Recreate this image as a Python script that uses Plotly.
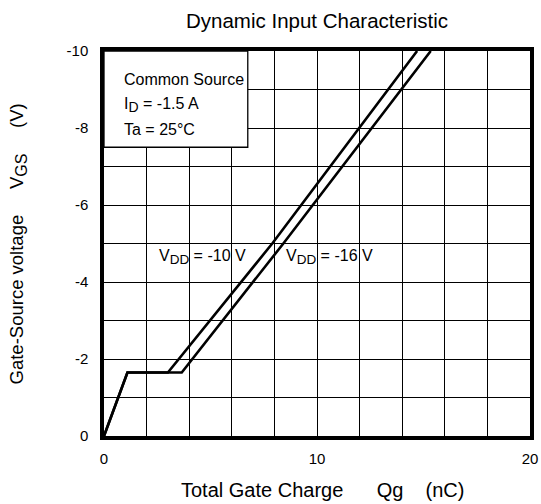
import plotly.graph_objects as go

# Gate charge curves: total gate charge Qg (nC) vs gate-source voltage VGS (V)
qg_vdd10 = [0.0, 1.1, 3.0, 7.9, 14.7]
vgs_vdd10 = [0.0, -1.65, -1.65, -5.0, -10.0]
qg_vdd16 = [0.0, 1.1, 3.65, 8.42, 15.34]
vgs_vdd16 = [0.0, -1.65, -1.65, -5.0, -10.0]

x_ticks = [0, 10, 20]
y_ticks = [0, -2, -4, -6, -8, -10]
x_minor = [2, 4, 6, 8, 12, 14, 16, 18]
y_minor = [-1, -3, -5, -7, -9]

FONT = "Liberation Sans, Arial, sans-serif"
NB = "\u00a0"

# plot area in pixels: left 104, right 530, top 51, bottom 436
PLOT_H = 385


def sub(txt, size):
    # subscript drawn a little larger than the default 70 %
    return f"<sub><span style='font-size:{size}px'>{txt}</span></sub>"


fig = go.Figure()
for qx, vy in [(qg_vdd10, vgs_vdd10), (qg_vdd16, vgs_vdd16)]:
    fig.add_trace(go.Scatter(
        x=qx, y=vy, mode="lines",
        line=dict(color="black", width=2.6),
        showlegend=False, hoverinfo="skip",
    ))

axis_common = dict(
    showline=True, mirror=True, linecolor="black", linewidth=3.5,
    showgrid=True, gridcolor="black", gridwidth=1.2,
    zeroline=False, ticks="", tickfont=dict(family=FONT, size=15, color="black"),
    fixedrange=True, automargin=False,
)

fig.update_xaxes(
    range=[0, 20], tickvals=x_ticks, ticktext=[str(v) for v in x_ticks],
    minor=dict(tickvals=x_minor, showgrid=True, gridcolor="black", gridwidth=1.2, ticks=""),
    ticklabelstandoff=6,
    **axis_common,
)
fig.update_yaxes(
    range=[0, -10], tickvals=y_ticks, ticktext=[str(v) for v in y_ticks],
    minor=dict(tickvals=y_minor, showgrid=True, gridcolor="black", gridwidth=1.2, ticks=""),
    ticklabelstandoff=9,
    **axis_common,
)

# Condition box in the upper-left corner
fig.add_shape(type="rect", xref="x", yref="y", x0=0, x1=6.75, y0=-10, y1=-7.5,
              fillcolor="white", line=dict(color="black", width=1.3), layer="above")

cond_font = dict(family=FONT, size=16, color="black")
for txt, yv in [("Common Source", -9.27),
                (f"I{sub('D', 14)} = -1.5 A", -8.6),
                ("Ta = 25°C", -7.95)]:
    fig.add_annotation(x=0.85, y=yv, xref="x", yref="y", text=txt, showarrow=False,
                       xanchor="left", yanchor="middle", font=cond_font)

# Curve labels
label_font = dict(family=FONT, size=16, color="black")
for txt, xv in [(f"V{sub('DD', 13.5)} = -10 V", 2.47), (f"V{sub('DD', 13.5)} = -16 V", 8.45)]:
    fig.add_annotation(x=xv, y=-4.65, xref="x", yref="y", text=txt, showarrow=False,
                       xanchor="left", yanchor="middle", font=label_font)

# Title and axis titles
fig.add_annotation(x=0.499, y=(436 - 20) / PLOT_H, xref="paper", yref="paper",
                   text="Dynamic Input Characteristic",
                   showarrow=False, xanchor="center", yanchor="middle",
                   font=dict(family=FONT, size=20.5, color="black"))

fig.add_annotation(
    x=0.514, y=(436 - 490) / PLOT_H, xref="paper", yref="paper",
    text=f"Total Gate Charge{NB*6}Qg{NB*4}(nC)",
    showarrow=False, xanchor="center", yanchor="middle",
    font=dict(family=FONT, size=20, color="black"))

fig.add_annotation(
    x=-0.202, y=0.5, xref="paper", yref="paper",
    text=f"Gate-Source voltage{NB*5}V{sub('GS', 16)}{NB*5}(V)", textangle=-90,
    showarrow=False, xanchor="center", yanchor="middle",
    font=dict(family=FONT, size=18.5, color="black"))

fig.update_layout(
    width=541, height=504,
    margin=dict(l=104, r=11, t=51, b=68),
    paper_bgcolor="white", plot_bgcolor="white",
    showlegend=False,
)

fig.write_html("out.html")
